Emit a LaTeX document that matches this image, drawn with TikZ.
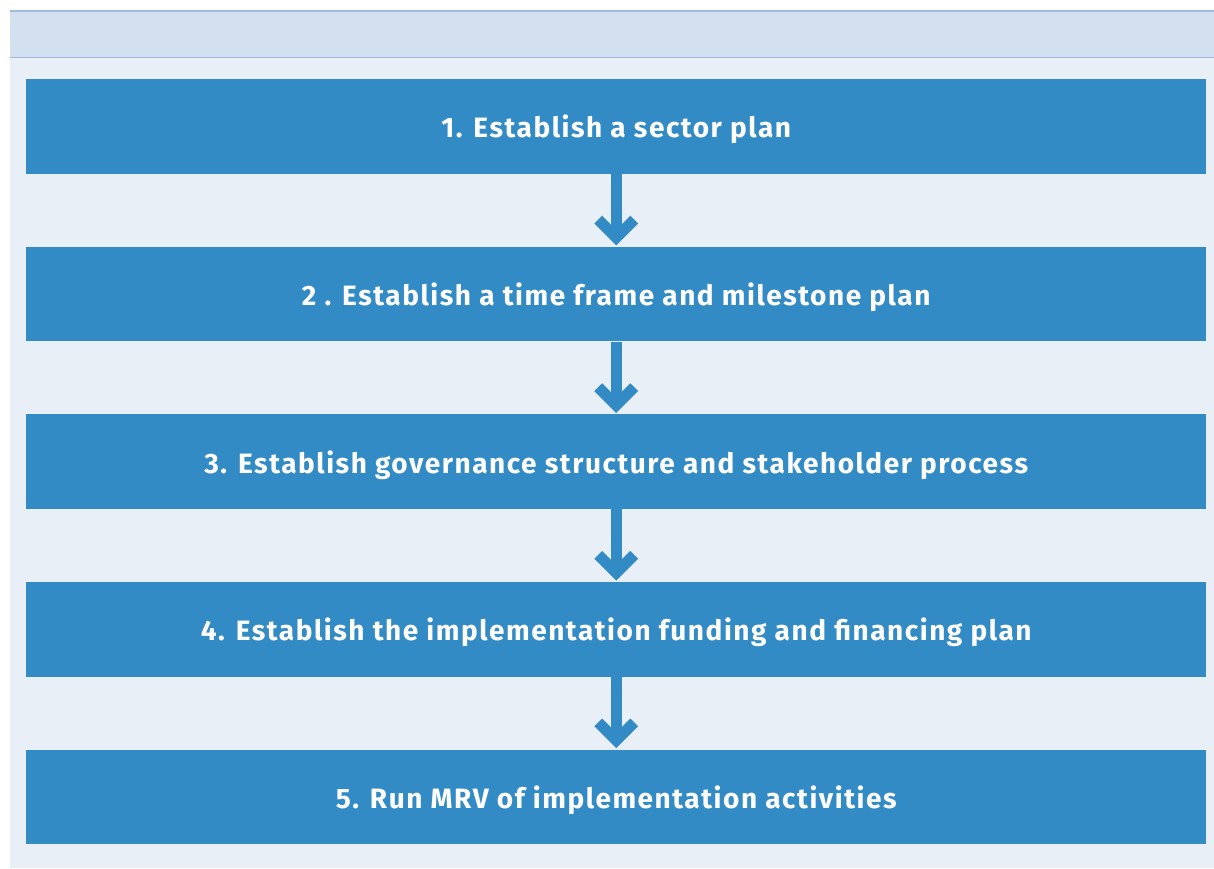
\documentclass[tikz,border=0pt]{standalone}
\usepackage{fontspec}
\setmainfont{Fira Sans}[LetterSpace=5.5]
\definecolor{boxblue}{RGB}{51,139,197}
\definecolor{bglight}{RGB}{232,239,247}
\definecolor{hdrfill}{RGB}{211,224,239}
\definecolor{hdrline}{RGB}{160,188,220}
\begin{document}
\begin{tikzpicture}[x=1pt,y=-1pt,
  stepbox/.style={fill=boxblue,draw=none,minimum width=1180pt,minimum height=94.5pt,inner sep=0pt,anchor=north west,
    text=white,font=\fontsize{28}{33}\selectfont\bfseries},
  shaft/.style={draw=boxblue,line width=11pt},
  chev/.style={draw=boxblue,line width=11pt,line join=miter}]
\useasboundingbox (0,0) rectangle (1214,868);
\fill[white] (0,0) rectangle (1214,868);
\fill[bglight] (10,58) rectangle (1214,868);
\fill[hdrfill] (10,11) rectangle (1214,57.5);
\draw[hdrline,line width=1.8pt] (10,11) -- (1214,11);
\draw[hdrline,line width=1.8pt] (10,57.5) -- (1214,57.5);
\foreach \i/\t in {1/{1. Establish a sector plan},
                   2/{2 . Establish a time frame and milestone plan},
                   3/{3. Establish governance structure and stakeholder process},
                   4/{4. Establish the implementation funding and financing plan},
                   5/{5. Run MRV of implementation activities}}{
  \node[stepbox] (b\i) at (26,{79+(\i-1)*167.6}) {\raisebox{-11.5pt}[0pt][0pt]{\t}};
}
\foreach \a/\b in {1/2,2/3,3/4,4/5}{
  \coordinate (v\a) at ([yshift=9pt]b\b.north);
  \draw[shaft] (b\a.south) -- ([yshift=4pt]v\a);
  \draw[chev] ([xshift=-18pt,yshift=18pt]v\a) -- (v\a) -- ([xshift=18pt,yshift=18pt]v\a);
}
\end{tikzpicture}
\end{document}
